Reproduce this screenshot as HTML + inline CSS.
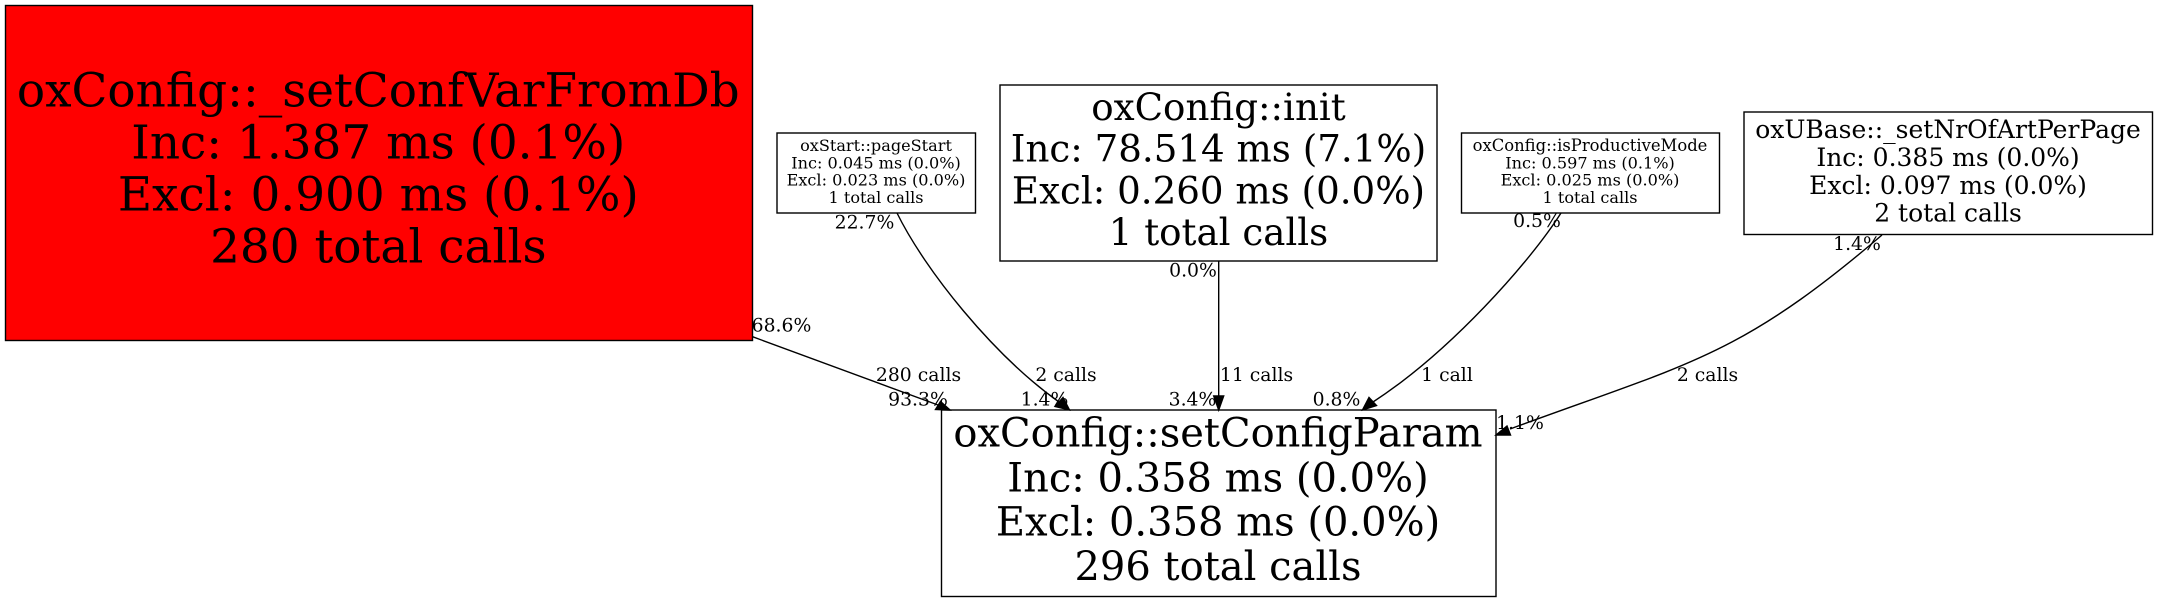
<!DOCTYPE html>
<html><head><meta charset="utf-8"><style>
html,body{margin:0;padding:0;background:#fff;width:2157px;height:603px;overflow:hidden}
svg{display:block}
text{font-family:"DejaVu Serif",serif;fill:#000;text-anchor:middle}
.n{fill:none;stroke:#000;stroke-width:1.4}
.a{fill:#000;stroke:#000;stroke-width:1.4}
.l{font-size:18.8px}
</style></head><body>
<svg width="2157" height="603" viewBox="0 0 2157 603" xmlns="http://www.w3.org/2000/svg">
<rect width="2157" height="603" fill="#fff"/>
<rect x="5.5" y="5.5" width="747" height="335" fill="#f00" stroke="#000" stroke-width="1.4"/>
<text x="378.3" y="106.5" font-size="46.9">oxConfig::_setConfVarFromDb</text>
<text x="378.3" y="158.5" font-size="46.9">Inc: 1.387 ms (0.1%)</text>
<text x="378.3" y="210.5" font-size="46.9">Excl: 0.900 ms (0.1%)</text>
<text x="378.3" y="262.5" font-size="46.9">280 total calls</text>

<rect class="n" x="777" y="133" width="198.5" height="80"/>
<text x="876" y="151" font-size="16.1">oxStart::pageStart</text>
<text x="876" y="168.3" font-size="16.1">Inc: 0.045 ms (0.0%)</text>
<text x="876" y="185.7" font-size="16.1">Excl: 0.023 ms (0.0%)</text>
<text x="876" y="203" font-size="16.1">1 total calls</text>

<rect class="n" x="1000" y="85" width="437" height="176"/>
<text x="1218.5" y="120" font-size="37.2">oxConfig::init</text>
<text x="1218.5" y="161.7" font-size="37.2">Inc: 78.514 ms (7.1%)</text>
<text x="1218.5" y="203.3" font-size="37.2">Excl: 0.260 ms (0.0%)</text>
<text x="1218.5" y="245" font-size="37.2">1 total calls</text>

<rect class="n" x="1461.5" y="133" width="258" height="80"/>
<text x="1590" y="151" font-size="16.4">oxConfig::isProductiveMode</text>
<text x="1590" y="168.3" font-size="16.1">Inc: 0.597 ms (0.1%)</text>
<text x="1590" y="185.7" font-size="16.1">Excl: 0.025 ms (0.0%)</text>
<text x="1590" y="203" font-size="16.1">1 total calls</text>

<rect class="n" x="1744" y="112" width="408.5" height="122.5"/>
<text x="1948" y="138" font-size="25">oxUBase::_setNrOfArtPerPage</text>
<text x="1948" y="166" font-size="25">Inc: 0.385 ms (0.0%)</text>
<text x="1948" y="194" font-size="25">Excl: 0.097 ms (0.0%)</text>
<text x="1948" y="221.7" font-size="25">2 total calls</text>

<rect class="n" x="941.5" y="410" width="554.5" height="186.5"/>
<text x="1218" y="446.7" font-size="40">oxConfig::setConfigParam</text>
<text x="1218" y="491.3" font-size="40">Inc: 0.358 ms (0.0%)</text>
<text x="1218" y="535.7" font-size="40">Excl: 0.358 ms (0.0%)</text>
<text x="1218" y="580" font-size="40">296 total calls</text>

<path class="n" d="M752.5,336.7 L938,405"/>
<polygon class="a" points="950,410 935.5,409.5 940.5,401.5"/>
<path class="n" d="M897,213 C925,270 993,355 1059,402"/>
<polygon class="a" points="1069.5,410 1055,406.5 1063,397.5"/>
<path class="n" d="M1218.7,261 L1218.7,396"/>
<polygon class="a" points="1218.7,410 1213.7,396 1223.7,396"/>
<path class="n" d="M1561,213 C1530,262 1450,352 1373,402"/>
<polygon class="a" points="1362.5,410 1369,397.5 1376.5,405.5"/>
<path class="n" d="M1882,235 C1738,358 1689,363 1510,429"/>
<polygon class="a" points="1496,435 1507,426 1510.5,435"/>

<text class="l" x="781.5" y="331.7">68.6%</text>
<text class="l" x="918.5" y="381">280 calls</text>
<text class="l" x="918" y="405.7">93.3%</text>
<text class="l" x="1066" y="381">2 calls</text>
<text class="l" x="1044.5" y="405.7">1.4%</text>
<text class="l" x="1192.5" y="405.7">3.4%</text>
<text class="l" x="1256.5" y="381">11 calls</text>
<text class="l" x="1447" y="381">1 call</text>
<text class="l" x="1336.5" y="405.7">0.8%</text>
<text class="l" x="1520" y="429">1.1%</text>
<text class="l" x="1707.5" y="381">2 calls</text>
<text class="l" x="864.5" y="228.3">22.7%</text>
<text class="l" x="1193" y="276.5">0.0%</text>
<text class="l" x="1537" y="227">0.5%</text>
<text class="l" x="1857" y="250">1.4%</text>
</svg>
</body></html>
